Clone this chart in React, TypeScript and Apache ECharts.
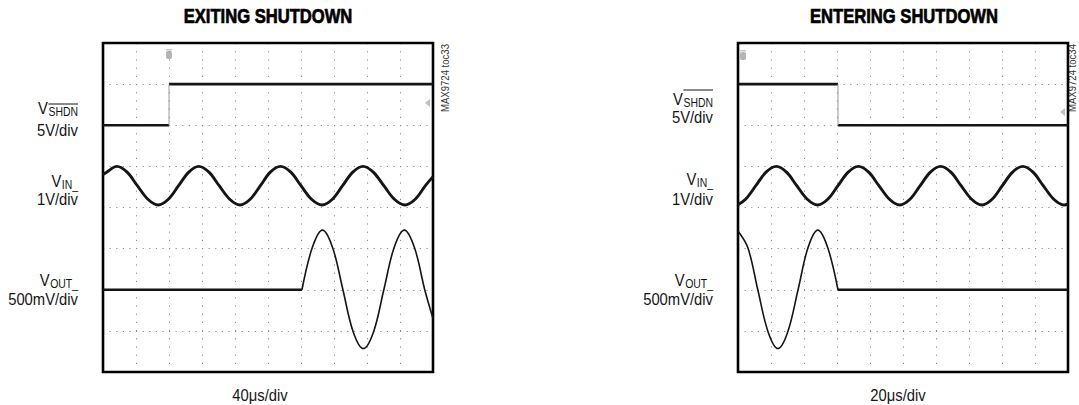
import React, { useEffect, useRef } from "react";
import * as echarts from "echarts";

// ---------- data (scope divisions: x 0..10, y 0..8) ----------
const X_MAX = 10;
const Y_MAX = 8;

// EXITING SHUTDOWN (left)
const exitShdnLow: number[][] = [[0, 6.0], [2.0, 6.0]];
const exitShdnHigh: number[][] = [[2.0, 7.0], [10, 7.0]];
const exitShdnEdge: number[][] = [[2.0, 6.0], [2.0, 7.0]];
const exitVin: number[][] = [
  [0, 4.8], [0.11, 4.86], [0.42, 5.0], [0.73, 4.86], [1.04, 4.53], [1.36, 4.2], [1.67, 4.06],
  [1.98, 4.2], [2.29, 4.53], [2.6, 4.86], [2.9, 5.0], [3.21, 4.86], [3.52, 4.53], [3.84, 4.2],
  [4.15, 4.06], [4.46, 4.2], [4.77, 4.53], [5.07, 4.86], [5.38, 5.0], [5.69, 4.86], [6.0, 4.53],
  [6.32, 4.2], [6.64, 4.06], [6.95, 4.2], [7.26, 4.53], [7.57, 4.86], [7.88, 5.0], [8.19, 4.86],
  [8.51, 4.53], [8.83, 4.2], [9.15, 4.06], [9.46, 4.2], [9.77, 4.53], [10, 4.75],
];
const exitVoutFlat: number[][] = [[0, 2.0], [6.03, 2.0]];
const exitVoutWave: number[][] = [
  [6.03, 2.0], [6.34, 3.02], [6.65, 3.45], [6.96, 3.02], [7.27, 2.0], [7.58, 0.98], [7.89, 0.57],
  [8.2, 0.98], [8.51, 2.0], [8.82, 3.02], [9.13, 3.45], [9.44, 3.02], [9.75, 2.0], [10, 1.3],
];

// ENTERING SHUTDOWN (right)
const enterShdnHigh: number[][] = [[0, 7.0], [3.03, 7.0]];
const enterShdnLow: number[][] = [[3.03, 6.0], [10, 6.0]];
const enterShdnEdge: number[][] = [[3.03, 7.0], [3.03, 6.0]];
const enterVin: number[][] = [
  [0, 4.07], [0.23, 4.2], [0.54, 4.53], [0.85, 4.86], [1.16, 5.0], [1.47, 4.86], [1.78, 4.53],
  [2.1, 4.2], [2.41, 4.06], [2.72, 4.2], [3.03, 4.53], [3.34, 4.86], [3.65, 5.0], [3.96, 4.86],
  [4.27, 4.53], [4.59, 4.2], [4.9, 4.06], [5.21, 4.2], [5.52, 4.53], [5.83, 4.86], [6.14, 5.0],
  [6.45, 4.86], [6.76, 4.53], [7.08, 4.2], [7.39, 4.06], [7.7, 4.2], [8.01, 4.53], [8.32, 4.86],
  [8.63, 5.0], [8.94, 4.86], [9.25, 4.53], [9.57, 4.2], [9.88, 4.06], [10, 4.08],
];
const enterVoutWave: number[][] = [
  [0, 3.43], [0.3, 3.02], [0.6, 2.0], [0.91, 0.98], [1.21, 0.57], [1.51, 0.98], [1.82, 2.0],
  [2.12, 3.02], [2.42, 3.45], [2.72, 3.02], [3.03, 2.0],
];
const enterVoutFlat: number[][] = [[3.03, 2.0], [10, 2.0]];

const titles = ["EXITING SHUTDOWN", "ENTERING SHUTDOWN"];
const timeBases = ["40\u03bcs/div", "20\u03bcs/div"];
const tocLabels = ["MAX9724 toc33", "MAX9724 toc34"];
const channelScales = ["5V/div", "1V/div", "500mV/div"];

// ---------- layout ----------
const FONT = '"Liberation Sans", Arial, sans-serif';
const SX = 0.87; // horizontal condensing of label text
const GRIDS = [
  { left: 103, top: 43, width: 330, height: 329 },
  { left: 738, top: 43, width: 330, height: 329 },
];
const INK = "#151515";

function measure(text: string, font: string): number {
  const ctx = document.createElement("canvas").getContext("2d");
  if (!ctx) return text.length * 7;
  ctx.font = font;
  return ctx.measureText(text).width;
}

function txt(x: number, y: number, text: string, font: string, align: string, vAlign: string, sx = SX, extra: any = {}): any {
  return {
    type: "text",
    x,
    y,
    scaleX: sx,
    style: { text, font, fill: INK, align, verticalAlign: vAlign, ...extra },
  };
}

function channelLabel(
  rightX: number,
  vMid: number,
  subText: string,
  subMid: number,
  scaleText: string,
  scaleMid: number,
  overlineY: number | null
): any[] {
  const subFont = `12px ${FONT}`;
  const subW = measure(subText, subFont) * SX;
  const els: any[] = [
    txt(rightX - subW - 0.5, vMid, "V", `17px ${FONT}`, "right", "middle"),
    txt(rightX, subMid, subText, subFont, "right", "middle"),
    txt(rightX, scaleMid, scaleText, `17px ${FONT}`, "right", "middle"),
  ];
  if (overlineY !== null) {
    els.push({
      type: "line",
      shape: { x1: rightX - subW, y1: overlineY, x2: rightX, y2: overlineY },
      style: { stroke: INK, lineWidth: 1 },
    });
  }
  return els;
}

function traceSeries(data: number[][], idx: number, width: number, smooth: boolean, color = INK): any {
  return {
    type: "line",
    xAxisIndex: idx,
    yAxisIndex: idx,
    data,
    smooth: smooth ? 0.35 : false,
    symbol: "none",
    lineStyle: { color, width, cap: "butt", join: "round" },
    silent: true,
  };
}

export default function App() {
  const ref = useRef<HTMLDivElement>(null);

  useEffect(() => {
    if (!ref.current) return;
    const chart = echarts.init(ref.current, undefined, { renderer: "svg" });

    const xAxis = GRIDS.map((_, i) => ({
      type: "value",
      gridIndex: i,
      min: 0,
      max: X_MAX,
      interval: 1,
      axisLine: { show: false },
      axisTick: { show: false },
      axisLabel: { show: false },
      splitLine: { show: true, lineStyle: { color: "#8a8a8a", width: 1, type: [1.2, 7] } },
    }));
    const yAxis = GRIDS.map((_, i) => ({
      type: "value",
      gridIndex: i,
      min: 0,
      max: Y_MAX,
      interval: 1,
      axisLine: { show: false },
      axisTick: { show: false },
      axisLabel: { show: false },
      splitLine: { show: true, lineStyle: { color: "#8a8a8a", width: 1, type: [1.2, 5.4] } },
    }));

    const graphics: any[] = [];
    // titles
    const titleX = [268, 904];
    titles.forEach((t, i) =>
      graphics.push(
        txt(titleX[i], 16, t, `bold 20px ${FONT}`, "center", "middle", 0.83, {
          fill: "#000",
          stroke: "#000",
          lineWidth: 0.7,
        })
      )
    );
    // time bases
    const tbX = [260, 898];
    timeBases.forEach((t, i) => graphics.push(txt(tbX[i], 395, t, `17px ${FONT}`, "center", "middle")));
    // toc labels (rotated, reading bottom to top)
    const tocX = [445, 1072];
    tocLabels.forEach((t, i) =>
      graphics.push({
        type: "text",
        x: tocX[i],
        y: 78,
        rotation: Math.PI / 2,
        scaleX: 0.87,
        style: { text: t, font: `11px ${FONT}`, fill: "#333", align: "center", verticalAlign: "middle" },
      })
    );
    // channel labels (left plot)
    graphics.push(...channelLabel(78, 108, "SHDN", 112, channelScales[0], 130, 104));
    graphics.push(...channelLabel(78, 181, "IN_", 185, channelScales[1], 199, null));
    graphics.push(...channelLabel(78, 280, "OUT_", 284, channelScales[2], 299, null));
    // channel labels (right plot)
    graphics.push(...channelLabel(713, 99, "SHDN", 103, channelScales[0], 117, 90));
    graphics.push(...channelLabel(713, 179, "IN_", 183, channelScales[1], 199, null));
    graphics.push(...channelLabel(713, 280, "OUT_", 284, channelScales[2], 299, null));
    // scope markers
    const markers = [
      { tx: 169, ty: 49, ax: 425, ay: 103 },
      { tx: 743, ty: 50, ax: 1060, ay: 112 },
    ];
    markers.forEach((m) => {
      graphics.push({
        type: "rect",
        shape: { x: m.tx - 3, y: m.ty + 2, width: 6, height: 8, r: 2 },
        style: { fill: "#b5b5b5" },
      });
      graphics.push({
        type: "rect",
        shape: { x: m.tx - 3, y: m.ty, width: 6, height: 1.5 },
        style: { fill: "#c8c8c8" },
      });
      graphics.push({
        type: "polygon",
        shape: { points: [[m.ax, m.ay], [m.ax + 5, m.ay - 4], [m.ax + 5, m.ay + 4]] },
        style: { fill: "#c0c0c0" },
      });
    });

    const series = [
      traceSeries(exitShdnLow, 0, 2.6, false),
      traceSeries(exitShdnHigh, 0, 2.6, false),
      traceSeries(exitShdnEdge, 0, 1, false, "#9a9a9a"),
      traceSeries(exitVin, 0, 2.9, true),
      traceSeries(exitVoutFlat, 0, 2.6, false),
      traceSeries(exitVoutWave, 0, 1.6, true),
      traceSeries(enterShdnHigh, 1, 2.6, false),
      traceSeries(enterShdnLow, 1, 2.6, false),
      traceSeries(enterShdnEdge, 1, 1, false, "#9a9a9a"),
      traceSeries(enterVin, 1, 2.9, true),
      traceSeries(enterVoutWave, 1, 1.6, true),
      traceSeries(enterVoutFlat, 1, 2.6, false),
    ];

    chart.setOption({
      animation: false,
      backgroundColor: "#fff",
      grid: GRIDS.map((g) => ({
        ...g,
        show: true,
        borderColor: "#000",
        borderWidth: 2.6,
        backgroundColor: "transparent",
        z: 3,
      })),
      xAxis,
      yAxis,
      series,
      graphic: graphics,
    });

    return () => chart.dispose();
  }, []);

  return (
    <div
      ref={ref}
      style={{ position: "fixed", left: 0, top: 0, width: 1079, height: 405, background: "#fff" }}
    />
  );
}
